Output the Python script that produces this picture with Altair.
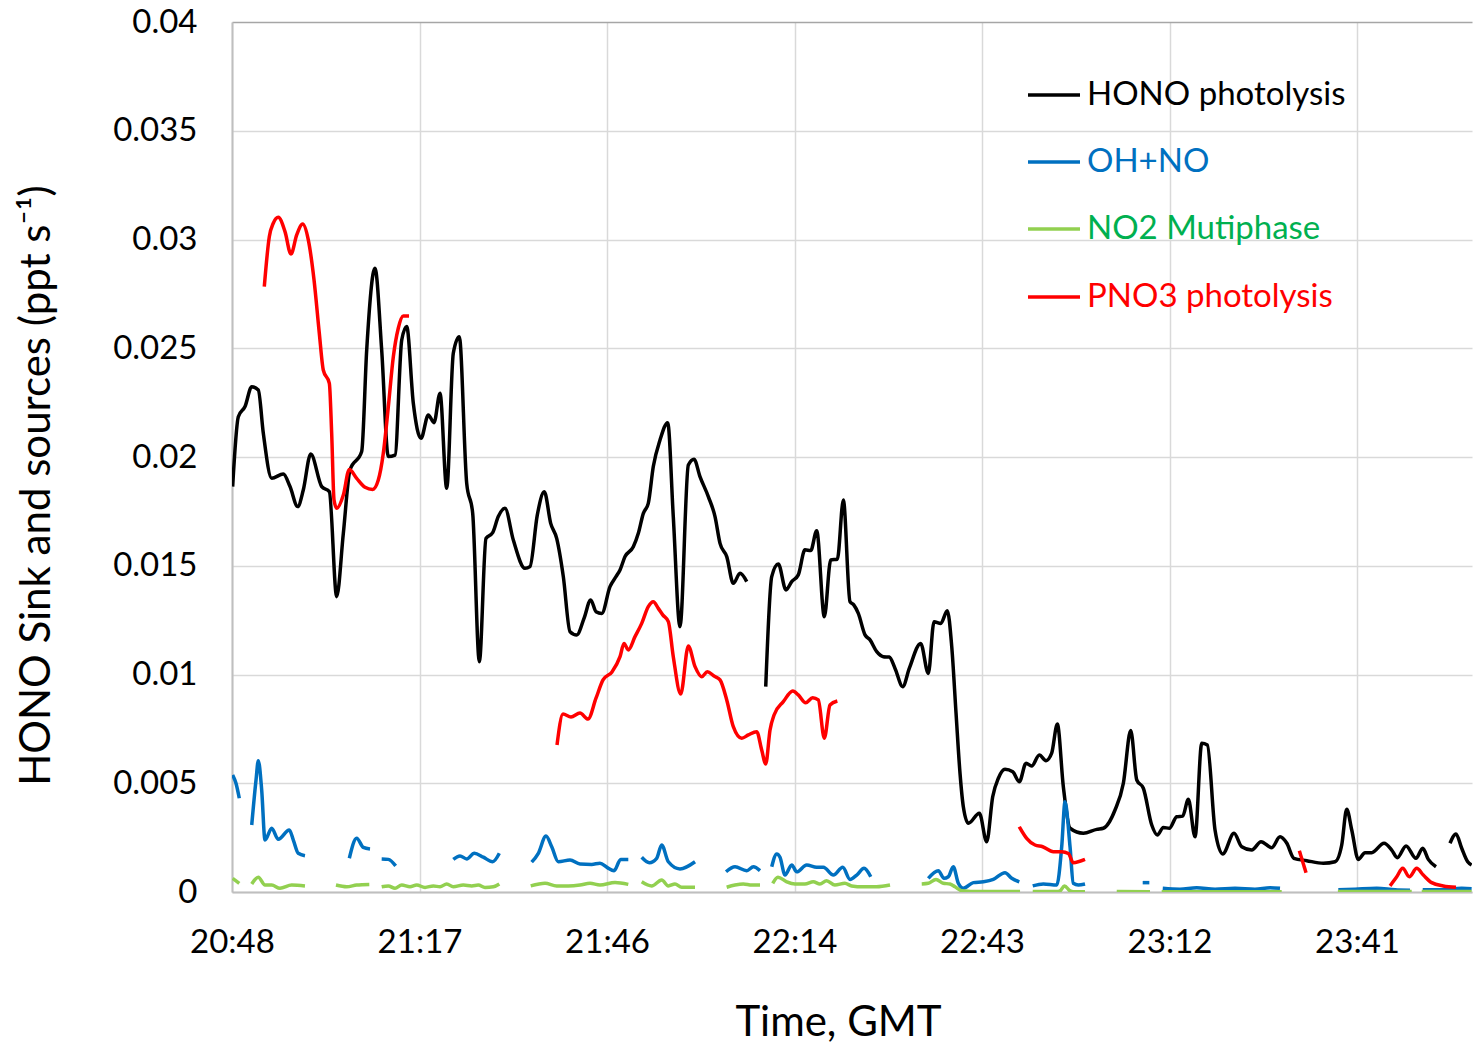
import altair as alt
import pandas as pd

# Time is in minutes after 20:48 GMT; rates in ppt s-1.
# None marks a break in the record (no data over that interval).
HONO_PHOTOLYSIS = [
    (0.1, 0.01864), (0.97, 0.02185), (2.0, 0.02232), (3.03, 0.02323), (4.04, 0.02308),
    (4.81, 0.02109), (6.10, 0.01902), (7.88, 0.01922), (8.91, 0.01864), (10.09, 0.01772),
    (10.95, 0.01848), (12.09, 0.02014), (13.78, 0.01864), (14.95, 0.01841), (16.08, 0.01358),
    (17.10, 0.01649), (18.12, 0.0194), (19.92, 0.02025), (20.69, 0.02492), (21.96, 0.02868),
    (22.99, 0.02492), (24.01, 0.02002), (25.04, 0.02009), (26.07, 0.02538), (26.83, 0.026),
    (27.85, 0.02247), (29.03, 0.02086), (30.15, 0.02193), (31.03, 0.02158), (31.95, 0.02293),
    (32.98, 0.01856), (33.99, 0.02477), (34.91, 0.02553), (36.05, 0.01879), (36.97, 0.01741),
    (37.99, 0.01059), (39.01, 0.01626), (40.04, 0.01652), (40.90, 0.01726), (41.93, 0.01764),
    (43.21, 0.01618), (45.0, 0.01488), (45.77, 0.01496), (46.89, 0.01733), (47.97, 0.0184),
    (48.95, 0.01695), (49.87, 0.01626), (50.89, 0.0145), (51.92, 0.01197), (52.95, 0.01182),
    (54.07, 0.01258), (55.10, 0.01343), (55.91, 0.01289), (56.79, 0.01281), (58.06, 0.01404),
    (58.98, 0.0145), (59.6, 0.01481), (60.37, 0.01542), (61.64, 0.01587), (62.41, 0.01649),
    (63.18, 0.01741), (63.94, 0.01787), (64.71, 0.01956), (65.74, 0.02078), (66.92, 0.02158),
    (67.78, 0.01726), (68.81, 0.0122), (70.09, 0.01963), (70.96, 0.0199), (71.88, 0.0191),
    (73.16, 0.01818), (74.19, 0.01726), (74.96, 0.01603), (75.99, 0.01542), (77.0, 0.01419),
    (78.03, 0.01465), (79.06, 0.01427),
    None,
    (81.98, 0.00944), (82.9, 0.0145), (83.91, 0.01508), (85.09, 0.01389), (85.97, 0.01427),
    (86.98, 0.01458), (88.01, 0.01573), (88.89, 0.0157), (89.81, 0.01661), (90.98, 0.01266),
    (91.96, 0.01527), (92.98, 0.0153), (93.9, 0.01802), (94.92, 0.01335), (95.5, 0.0132),
    (96.2, 0.01281), (97.23, 0.01182), (98.0, 0.01159), (99.03, 0.01105), (100.04, 0.01082),
    (100.96, 0.0108), (101.84, 0.01028), (103.02, 0.00944), (104.03, 0.01028), (105.78, 0.01143),
    (106.95, 0.01005), (107.83, 0.01243), (108.86, 0.01235), (109.87, 0.01293), (110.55, 0.01128),
    (111.21, 0.00822), (111.82, 0.00546), (112.33, 0.00392), (113.1, 0.00316), (114.79, 0.00362),
    (115.92, 0.00231), (116.84, 0.00438), (117.71, 0.00523), (118.73, 0.00564), (119.92, 0.00553),
    (120.93, 0.00507), (121.96, 0.00592), (122.83, 0.00579), (124.0, 0.0063), (125.03, 0.00604),
    (125.9, 0.00638), (126.77, 0.00772), (127.69, 0.00484), (128.72, 0.00293), (130.76, 0.0027),
    (132.82, 0.00288), (133.84, 0.00293), (135.63, 0.00377), (136.91, 0.005), (138.04, 0.00742),
    (138.97, 0.00515), (139.98, 0.00477), (141.27, 0.00308), (142.13, 0.00262), (143.05, 0.00297),
    (143.97, 0.00293), (145.11, 0.00346), (146.03, 0.00349), (146.89, 0.00426), (147.92, 0.00254),
    (148.95, 0.00684), (149.81, 0.00676), (150.99, 0.00285), (152.17, 0.00175), (153.91, 0.0027),
    (155.09, 0.00208), (156.63, 0.00193), (158.06, 0.00231), (159.7, 0.00204), (160.97, 0.00254),
    (162.0, 0.00225), (163.1, 0.00155), (165.08, 0.00144), (167.63, 0.00132), (169.43, 0.00139),
    (170.45, 0.00216), (171.22, 0.0038), (171.99, 0.00285), (173.0, 0.0015), (174.03, 0.00181),
    (175.06, 0.00181), (176.95, 0.00224), (178.13, 0.00193), (178.99, 0.00158), (180.33, 0.00212),
    (181.86, 0.00155), (182.89, 0.00201), (183.75, 0.0015), (184.93, 0.00116),
    None,
    (187.08, 0.00224), (188.0, 0.00267), (188.88, 0.00201), (189.8, 0.00139), (190.4, 0.00124),
]

OH_NO = [
    (0.1, 0.00538), (0.61, 0.005), (1.12, 0.00431),
    None,
    (3.03, 0.00308), (3.69, 0.00515), (4.04, 0.00604), (4.56, 0.00469), (5.07, 0.00239),
    (6.1, 0.00293), (7.11, 0.00242), (8.8, 0.00285), (9.42, 0.00239), (10.18, 0.00178),
    (11.21, 0.00167),
    None,
    (18.02, 0.00155), (19.15, 0.00247), (20.17, 0.00205), (21.2, 0.00198),
    None,
    (22.99, 0.00152), (24.01, 0.0015), (25.14, 0.0012),
    None,
    (33.99, 0.0015), (35.02, 0.00166), (36.05, 0.00152), (37.22, 0.00178), (38.6, 0.0016),
    (40.04, 0.00139), (41.06, 0.00178),
    None,
    (46.03, 0.00137), (47.05, 0.00178), (48.23, 0.00257), (49.11, 0.00208), (50.12, 0.00139),
    (51.92, 0.00147), (53.45, 0.00129), (55.25, 0.00127), (56.52, 0.00132), (57.65, 0.00112),
    (58.68, 0.00098), (59.7, 0.0015), (60.87, 0.0015),
    None,
    (62.93, 0.0016), (64.1, 0.00135), (65.23, 0.00155), (66.0, 0.00216), (67.02, 0.00139),
    (68.81, 0.00106), (71.12, 0.00139),
    None,
    (75.88, 0.00093), (77.26, 0.00116), (79.06, 0.00098), (80.08, 0.00116), (81.1, 0.00098),
    None,
    (82.9, 0.00116), (83.67, 0.00175), (84.17, 0.0016), (84.94, 0.00078), (85.97, 0.00124),
    (86.74, 0.00093), (88.27, 0.00124), (89.81, 0.00114), (90.83, 0.00114), (92.37, 0.00078),
    (93.81, 0.00114), (94.93, 0.00058), (95.96, 0.00078), (97.08, 0.00109), (98.11, 0.0007),
    None,
    (106.95, 0.00063), (108.49, 0.00098), (109.36, 0.00063), (110.02, 0.0007), (110.79, 0.00116),
    (111.56, 0.0004), (112.33, 0.00017), (113.87, 0.00043), (115.4, 0.00047), (116.94, 0.00058),
    (118.73, 0.00089), (119.76, 0.00063), (120.93, 0.00047),
    None,
    (122.99, 0.00028), (124.62, 0.00037), (126.68, 0.00032), (127.44, 0.00208), (127.95, 0.00415),
    (128.72, 0.00208), (129.22, 0.0004), (129.99, 0.00032), (131.02, 0.00037),
    None,
    (139.88, 0.00043), (140.9, 0.00043),
    None,
    (142.96, 0.00017), (145.6, 0.00013), (148.17, 0.0002), (150.99, 0.00013), (154.06, 0.00017),
    (157.13, 0.00013), (159.44, 0.0002), (160.97, 0.00017),
    None,
    (169.93, 0.0001), (172.5, 0.00013), (175.83, 0.00017), (178.64, 0.0001), (180.94, 0.00008),
    None,
    (182.89, 0.0001), (185.54, 0.0001), (188.88, 0.00017), (190.4, 0.00015),
]

NO2_MULTIPHASE = [
    (0.1, 0.00063), (1.12, 0.0004),
    None,
    (3.03, 0.00037), (4.04, 0.00068), (5.07, 0.00032), (6.1, 0.00032), (7.37, 0.00017),
    (9.17, 0.00032), (11.21, 0.00028),
    None,
    (15.97, 0.00032), (17.62, 0.00024), (19.15, 0.00032), (21.09, 0.00035),
    None,
    (22.99, 0.00024), (24.01, 0.00028), (25.04, 0.00017), (26.07, 0.00032), (27.34, 0.00024),
    (28.37, 0.00032), (29.65, 0.00021), (30.92, 0.00028), (31.95, 0.00024), (32.98, 0.00037),
    (33.99, 0.00024), (35.53, 0.00032), (36.82, 0.00028), (37.83, 0.00032), (38.86, 0.00021),
    (40.14, 0.00024), (41.06, 0.00037),
    None,
    (45.88, 0.00028), (48.08, 0.0004), (49.87, 0.00028), (51.66, 0.00028), (53.45, 0.00032),
    (54.99, 0.0004), (56.52, 0.00032), (58.83, 0.00044), (60.87, 0.00035),
    None,
    (62.93, 0.00047), (64.46, 0.00028), (66.0, 0.00055), (67.02, 0.00028), (68.04, 0.00037),
    (69.07, 0.00022), (71.12, 0.00022),
    None,
    (75.98, 0.00022), (77.26, 0.00032), (78.54, 0.00037), (79.83, 0.00032), (81.1, 0.00032),
    None,
    (83.05, 0.0004), (83.86, 0.00068), (85.2, 0.00047), (86.47, 0.00037), (88.0, 0.00037),
    (89.28, 0.00047), (90.3, 0.00037), (91.33, 0.00052), (92.6, 0.00032), (94.14, 0.0004),
    (95.17, 0.00028), (96.95, 0.00024), (99.0, 0.00024), (101.07, 0.00032),
    None,
    (105.94, 0.00037), (106.95, 0.0004), (108.13, 0.00058), (109.25, 0.0004), (110.28, 0.00037),
    (111.05, 0.00024), (112.08, 0.00006), (114.89, 0.00002), (117.96, 0.00002), (121.04, 0.00002),
    None,
    (122.99, 0.00002), (126.68, 0.00002), (127.19, 0.00005), (127.87, 0.00028), (128.72, 0.00005),
    (129.22, 0.00001), (131.02, 0.00001),
    None,
    (135.89, 0.00002), (141.0, 0.00001),
    None,
    (142.8, 0.00001), (161.23, 0.00001),
    None,
    (169.86, 0.00002), (181.2, 0.00002),
    None,
    (182.74, 0.00002), (190.4, 0.00002),
]

PNO3_PHOTOLYSIS = [
    (4.96, 0.02783), (5.73, 0.03013), (6.34, 0.03075), (7.11, 0.03102), (8.14, 0.03036),
    (9.06, 0.02933), (9.94, 0.03021), (10.86, 0.03071), (11.72, 0.02998), (12.6, 0.02814),
    (13.41, 0.02569), (14.02, 0.024), (14.95, 0.02339), (15.31, 0.02109), (15.67, 0.01802),
    (16.08, 0.01764), (17.1, 0.01825), (18.02, 0.01943), (19.15, 0.01902), (20.43, 0.01861),
    (21.61, 0.01851), (22.47, 0.01894), (23.24, 0.02017), (24.01, 0.02231), (24.78, 0.02461),
    (25.54, 0.02592), (26.31, 0.02648), (27.19, 0.02648),
    None,
    (49.92, 0.00676), (50.84, 0.00818), (52.07, 0.00805), (53.45, 0.00823), (54.68, 0.00795),
    (55.91, 0.00891), (56.99, 0.00975), (58.37, 0.01012), (59.6, 0.01082), (60.21, 0.01143),
    (60.87, 0.01113), (61.9, 0.01174), (62.93, 0.01235), (63.94, 0.01312), (64.71, 0.01335),
    (65.48, 0.01304), (66.16, 0.01274), (67.02, 0.01243), (67.78, 0.01082), (68.92, 0.0091),
    (70.09, 0.01131), (71.12, 0.01036), (72.15, 0.0099), (73.01, 0.01013), (74.04, 0.00993),
    (74.96, 0.00975), (75.99, 0.00883), (77.0, 0.0076), (78.29, 0.00707), (79.31, 0.00722),
    (80.59, 0.00737), (81.36, 0.00653), (81.98, 0.00589), (82.64, 0.00745), (83.26, 0.00814),
    (84.68, 0.00875), (86.13, 0.00924), (86.98, 0.00906), (88.12, 0.0087), (89.19, 0.00893),
    (90.05, 0.00883), (90.98, 0.00707), (91.85, 0.0086), (92.98, 0.00878),
    None,
    (120.93, 0.003), (122.06, 0.00247), (123.34, 0.00216), (124.52, 0.00208), (126.15, 0.00185),
    (127.44, 0.00185), (128.46, 0.00177), (129.22, 0.00135), (131.02, 0.0015),
    None,
    (163.94, 0.0019), (164.97, 0.00089),
    None,
    (177.87, 0.00028), (178.9, 0.0007), (179.82, 0.00109), (180.83, 0.0007), (181.97, 0.00109),
    (182.98, 0.00078), (184.27, 0.00043), (186.05, 0.00028), (188.0, 0.00022),
]

SERIES = ["HONO photolysis", "OH+NO", "NO2 Mutiphase", "PNO3 photolysis"]
RECORDS = [HONO_PHOTOLYSIS, OH_NO, NO2_MULTIPHASE, PNO3_PHOTOLYSIS]
LINE_COLORS = ["#000000", "#0070C0", "#92D050", "#FF0000"]
LABEL_COLORS = ["#000000", "#0070C0", "#00B050", "#FF0000"]

X_TICKS = [0, 28.8, 57.6, 86.4, 115.2, 144.0, 172.8]   # 20:48 ... 23:41
X_MAX = 190.46
Y_TICKS = [0, 0.005, 0.01, 0.015, 0.02, 0.025, 0.03, 0.035, 0.04]

FONT = "Lato"
W, H = 1240, 870
LINE_W = 3.5


def to_frame(name, record):
    rows, seg = [], 0
    for p in record:
        if p is None:
            seg += 1
            continue
        rows.append({"series": name, "seg": seg, "t": p[0], "v": p[1]})
    return pd.DataFrame(rows)


# clock label from minutes after 20:48
clock = "round(1248 + datum.value)"
x_label_expr = (
    f"floor({clock} / 60) + ':' + ({clock} % 60 < 10 ? '0' : '') + ({clock} % 60)"
)

x_enc = alt.X(
    "t:Q",
    scale=alt.Scale(domain=[0, X_MAX], nice=False, zero=False),
    axis=alt.Axis(
        values=X_TICKS,
        labelExpr=x_label_expr,
        title="Time, GMT",
        grid=True,
        gridColor="#d9d9d9",
        gridWidth=1.5,
        domainColor="#bfbfbf",
        domainWidth=2,
        ticks=False,
        tickSize=0,
        labelFont=FONT,
        labelFontSize=33,
        labelColor="#000000",
        labelBaseline="middle",
        labelPadding=50,
        labelFlush=False,
        titleFont=FONT,
        titleFontSize=42,
        titleFontWeight="normal",
        titleColor="#000000",
        titleX=606,
        titleY=130,
        titleAlign="center",
        titleBaseline="middle",
    ),
)

y_enc = alt.Y(
    "v:Q",
    scale=alt.Scale(domain=[0, 0.04], nice=False, zero=True),
    axis=alt.Axis(
        values=Y_TICKS,
        format=".3~f",
        title="HONO Sink and sources (ppt s\u207b\u00b9)",
        grid=True,
        gridColor={"condition": {"test": "datum.value >= 0.0399", "value": "#a6a6a6"},
                   "value": "#d9d9d9"},
        gridWidth=1.5,
        domainColor="#bfbfbf",
        domainWidth=2,
        ticks=False,
        tickSize=0,
        labelFont=FONT,
        labelFontSize=33,
        labelColor="#000000",
        labelPadding=35,
        labelFlush=False,
        titleFont=FONT,
        titleFontSize=42,
        titleFontWeight="normal",
        titleColor="#000000",
        titleAngle=270,
        titleX=-196,
        titleY=463,
        titleAlign="center",
        titleBaseline="middle",
    ),
)

layers = []
for name, rec, col in zip(SERIES, RECORDS, LINE_COLORS):
    layers.append(
        alt.Chart(to_frame(name, rec))
        .mark_line(color=col, strokeWidth=LINE_W, interpolate="monotone", clip=True)
        .encode(x=x_enc, y=y_enc, detail="seg:N")
    )

# legend block, top right inside the plot
LEGEND_Y = [73, 140, 207, 275]
for name, lc, tc, yy in zip(SERIES, LINE_COLORS, LABEL_COLORS, LEGEND_Y):
    item = alt.Chart(pd.DataFrame({"label": [name]}))
    layers.append(
        item.mark_rule(color=lc, strokeWidth=LINE_W).encode(
            x=alt.value(796), x2=alt.value(848), y=alt.value(yy)
        )
    )
    layers.append(
        item.mark_text(align="left", baseline="middle", font=FONT, fontSize=33, color=tc).encode(
            x=alt.value(855), y=alt.value(yy), text="label:N"
        )
    )

chart = (
    alt.layer(*layers)
    .properties(
        width=W,
        height=H,
        autosize=alt.AutoSizeParams(type="none"),
        padding={"left": 232, "top": 22, "right": 1, "bottom": 156},
        background="#ffffff",
    )
    .configure_view(stroke=None)
)

chart.save("out.html", embed_options={"renderer": "svg", "actions": False})
